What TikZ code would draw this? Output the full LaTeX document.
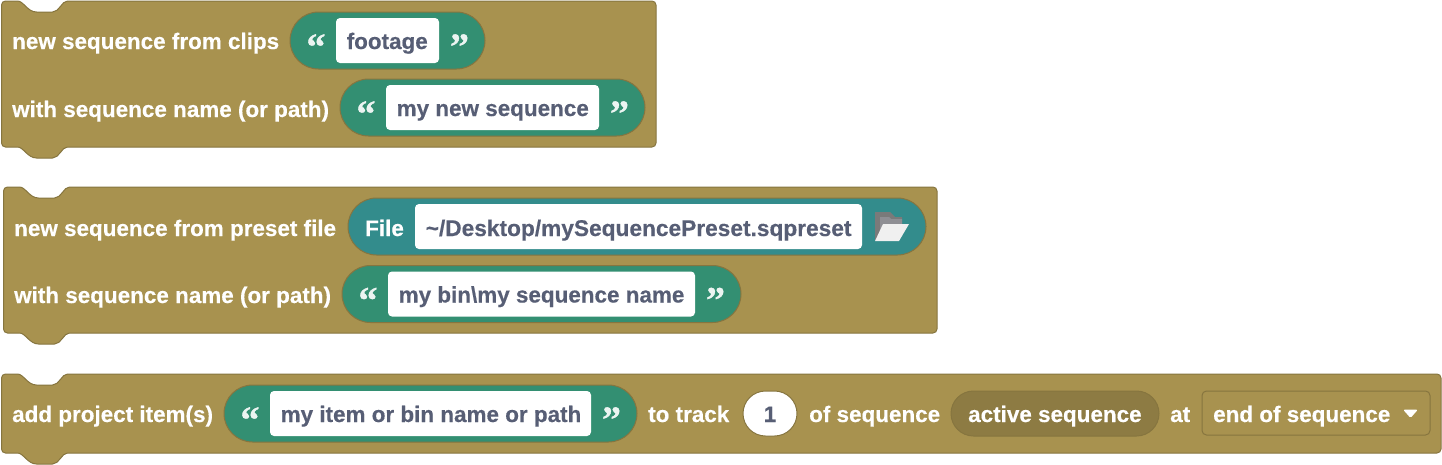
\documentclass[tikz,border=0pt]{standalone}
\usepackage{fontspec}
\setmainfont{Liberation Sans}[BoldFont={Liberation Sans Bold},BoldFeatures={FakeBold=0.35}]
\newfontfamily\quotefont{Liberation Serif}[BoldFont={Liberation Serif Bold},BoldFeatures={FakeBold=0.8}]
\definecolor{blockfill}{HTML}{A8924F}
\definecolor{blockedge}{HTML}{86753F}
\definecolor{strgreen}{HTML}{338F72}
\definecolor{fileteal}{HTML}{338C8C}
\definecolor{pilledge}{HTML}{86753F}
\definecolor{fieldtext}{HTML}{575E75}
\definecolor{activefill}{HTML}{8D7B43}
\definecolor{folderback}{HTML}{7A7A7A}
\definecolor{folderin}{HTML}{8F8F94}
\definecolor{foldersheet}{HTML}{F0F0F0}
\tikzset{
  x=1pt,y=-1pt,
  blockshape/.style={fill=blockfill,draw=blockedge,line width=1pt,line join=round},
  strpill/.style={fill=strgreen,draw=pilledge,line width=1pt,rounded corners=28.5pt},
  filepill/.style={fill=fileteal,draw=pilledge,line width=1pt,rounded corners=28.5pt},
  whitefield/.style={fill=white,rounded corners=4pt},
  numfield/.style={fill=white,draw=pilledge,line width=1pt,rounded corners=22.5pt},
  activepill/.style={fill=activefill,draw=blockedge,line width=1pt,rounded corners=22.5pt},
  dropbox/.style={fill=blockfill,draw=blockedge,line width=1pt,rounded corners=4.5pt},
  lab/.style={anchor=base west,inner sep=0pt,text=white,font=\fontsize{22.45}{24}\selectfont\bfseries},
  val/.style={anchor=base west,inner sep=0pt,text=fieldtext,font=\fontsize{22.45}{24}\selectfont\bfseries},
  qm/.style={anchor=base,inner sep=0pt,text=white,text opacity=.9,font=\fontsize{38}{40}\selectfont\quotefont\bfseries},
}
% x1,y1,x2,y2
\newcommand{\blockshape}[4]{%
  \draw[blockshape] (#1+4,#2) -- (#1+16,#2) .. controls (#1+22,#2) and (#1+26,#2+11) .. (#1+35,#2+11) -- (#1+51,#2+11)
    .. controls (#1+58,#2+11) and (#1+60,#2) .. (#1+66,#2) -- (#3-4,#2) arc[start angle=-90,end angle=0,radius=4]
    -- (#3,#4-4) arc[start angle=0,end angle=90,radius=4] -- (#1+66,#4)
    .. controls (#1+60,#4) and (#1+58,#4+11) .. (#1+51,#4+11) -- (#1+35,#4+11)
    .. controls (#1+26,#4+11) and (#1+22,#4) .. (#1+16,#4) -- (#1+4,#4) arc[start angle=90,end angle=180,radius=4]
    -- (#1,#2+4) arc[start angle=180,end angle=270,radius=4] -- cycle;}
% name,x1,x2,ytop(pill),text
\newcommand{\strinput}[5]{%
  \draw[strpill] (#2,#4) rectangle (#3,#4+57);
  \fill[whitefield] (#2+46,#4+6) rectangle (#3-46,#4+51);
  \node[val] (#1) at (#2+56.5,#4+37) {#5};
  \node[qm] (#1l) at (#2+26,#4+47.5) {“};
  \node[qm] (#1r) at (#3-25.5,#4+47.5) {”};}
\begin{document}
\begin{tikzpicture}
\useasboundingbox (0,0) rectangle (1442,464);
\blockshape{1.5}{1}{656}{147}
\blockshape{3.5}{187}{937}{333}
\blockshape{1.5}{374}{1441}{453}

\node[lab] (a1) at (12,49) {new sequence from clips};
\strinput{fa}{290}{485}{12}{footage}
\node[lab] (a2) at (12,117) {with sequence name (or path)};
\strinput{fb}{340}{645}{79}{my new sequence}

\node[lab] (b1) at (14,236) {new sequence from preset file};
\draw[filepill] (348,198) rectangle (926,255);
\fill[whitefield] (415,204) rectangle (862,249);
\node[lab] (bf) at (365,236) {File};
\node[val,font=\fontsize{22.7}{24}\selectfont\bfseries] (bp) at (425.5,236) {\textasciitilde/Desktop/mySequencePreset.sqpreset};
\fill[folderback] (875,212) -- (890,212) -- (895,217) -- (902,217) -- (902,224) -- (875,241) -- cycle;
\fill[folderin] (880,217) -- (889,217) -- (891,219) -- (902,219) -- (902,224) -- (883,224) -- (880,232) -- cycle;
\fill[foldersheet] (883,224) -- (909,224) -- (899,241) -- (875,241) -- cycle;
\node[lab] (b2) at (14,303) {with sequence name (or path)};
\strinput{fc}{342}{741}{265.5}{my bin\textbackslash my sequence name}

\node[lab] (c1) at (12,422) {add project item(s)};
\strinput{fd}{224}{637}{385}{my item or bin name or path}
\node[lab] (c2) at (648,422) {to track};
\draw[numfield] (743,391) rectangle (797,436);
\node[val,anchor=base] (c3) at (770,422) {1};
\node[lab] (c4) at (809,422) {of sequence};
\draw[activepill] (951,391) rectangle (1159,436);
\node[lab] (c5) at (968,422) {active sequence};
\node[lab] (c6) at (1170,422) {at};
\draw[dropbox] (1202,391) rectangle (1430,435);
\node[lab] (c7) at (1213,422) {end of sequence};
\fill[white,rounded corners=1.5pt] (1403,409.5) -- (1418,409.5) -- (1410.5,418) -- cycle;
\end{tikzpicture}
\end{document}
